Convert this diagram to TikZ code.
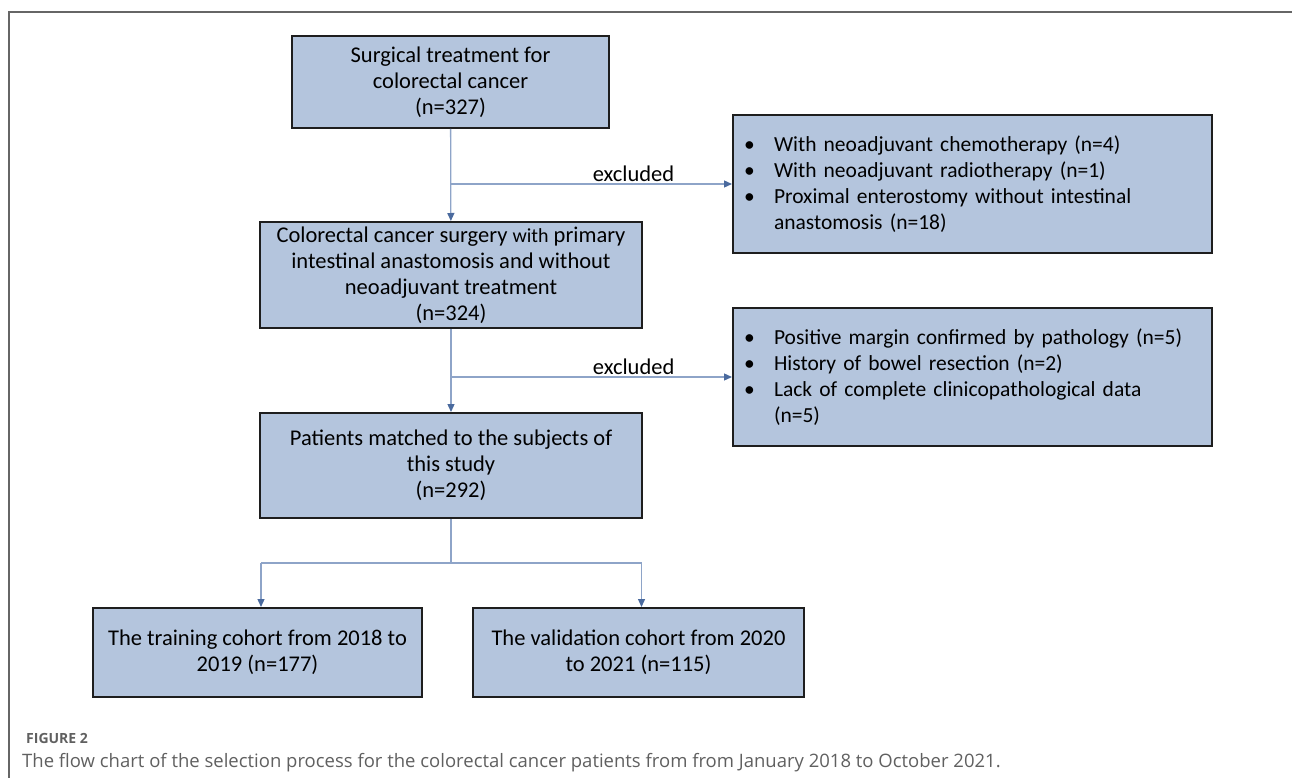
\documentclass[tikz,border=0pt]{standalone}
\usepackage{fontspec}
\setmainfont{Carlito}
\newfontfamily\capfont{Open Sans}
\usetikzlibrary{arrows.meta}
\definecolor{boxfill}{HTML}{B4C5DD}
\definecolor{boxdraw}{HTML}{1E1E1E}
\definecolor{connline}{HTML}{8EA4C8}
\definecolor{arrowc}{HTML}{4A6A9E}
\definecolor{framec}{HTML}{666666}
\definecolor{capc}{HTML}{606060}
\tikzset{
  flowbox/.style={draw=boxdraw, line width=2pt, fill=boxfill, rectangle, align=center,
     font=\fontsize{22.5}{26}\selectfont, inner sep=0pt},
  listbox/.style={draw=boxdraw, line width=2pt, fill=boxfill, rectangle, align=left,
     font=\fontsize{21.5}{26}\selectfont, inner xsep=11pt, inner ysep=0pt,
     text width=457pt, minimum width=479pt, minimum height=138pt},
  conn/.style={draw=connline, line width=1.3pt, -{Triangle[length=8pt,width=7pt,fill=arrowc,color=arrowc]}},
  plainconn/.style={draw=connline, line width=1.3pt},
  lbl/.style={font=\fontsize{22.5}{26}\selectfont, inner sep=2pt, anchor=south},
}
\newcommand{\bul}{\makebox[30pt][l]{\textbullet}}
\newcommand{\ind}{\hspace*{30pt}}
\begin{document}
\begin{tikzpicture}[x=1pt,y=-1pt]
\useasboundingbox (0,0) rectangle (1292,778);
% frame
\draw[framec, line width=1.3pt] (9,778) -- (9,12) -- (1292,12);

\node[flowbox, minimum width=317pt, minimum height=92pt] (b1) at (450.5,82)
  {Surgical treatment for\\colorectal cancer\\(n=327)};
\node[flowbox, minimum width=382pt, minimum height=106pt] (b2) at (451,275)
  {Colorectal cancer surgery {\fontsize{20}{26}\selectfont with} primary\\intestinal anastomosis and without\\neoadjuvant treatment\\(n=324)};
\node[flowbox, minimum width=382pt, minimum height=105pt] (b3) at (451,465.5)
  {Patients matched to the subjects of\\this study\\(n=292)};
\node[flowbox, minimum width=329pt, minimum height=89pt] (b4) at (257.5,652.5)
  {The training cohort from 2018 to\\2019 (n=177)};
\node[flowbox, minimum width=331pt, minimum height=89pt] (b5) at (638.5,652.5)
  {The validation cohort from 2020\\to 2021 (n=115)};

\node[listbox] (r1) at (972.5,184)
  {\bul With neoadjuvant chemotherapy (n=4)\\
   \bul With neoadjuvant radiotherapy (n=1)\\
   \bul Proximal enterostomy without intestinal\\
   \ind anastomosis (n=18)};
\node[listbox] (r2) at (972.5,377)
  {\bul Positive margin confirmed by pathology (n=5)\\
   \bul History of bowel resection (n=2)\\
   \bul Lack of complete clinicopathological data\\
   \ind (n=5)};

% connectors
\draw[conn] (b1) -- (b2);
\coordinate (e1) at (b1.south |- r1.west);
\draw[conn] (e1) -- node[lbl, pos=0.65] {excluded} (r1.west);
\draw[conn] (b2) -- (b3);
\coordinate (e2) at (b2.south |- r2.west);
\draw[conn] (e2) -- node[lbl, pos=0.65] {excluded} (r2.west);

\coordinate (sp) at (451,563);
\coordinate (spl) at (261,563);
\coordinate (spr) at (641.5,563);
\draw[plainconn] (b3.south) -- (sp);
\draw[plainconn] (spl) -- (spr);
\draw[conn] (spl) -- (spl |- b4.north);
\draw[conn] (spr) -- (spr |- b5.north);

% caption
\node[anchor=base west, inner sep=0pt, text=capc, font=\capfont\bfseries\fontsize{14}{16}\selectfont] (fig) at (26,743) {FIGURE 2};
\node[anchor=base west, inner sep=0pt, text=capc, font=\capfont\fontsize{18.5}{20}\selectfont] (cap) at (22,767)
  {The flow chart of the selection process for the colorectal cancer patients from from January 2018 to October 2021.};
\end{tikzpicture}
\end{document}
